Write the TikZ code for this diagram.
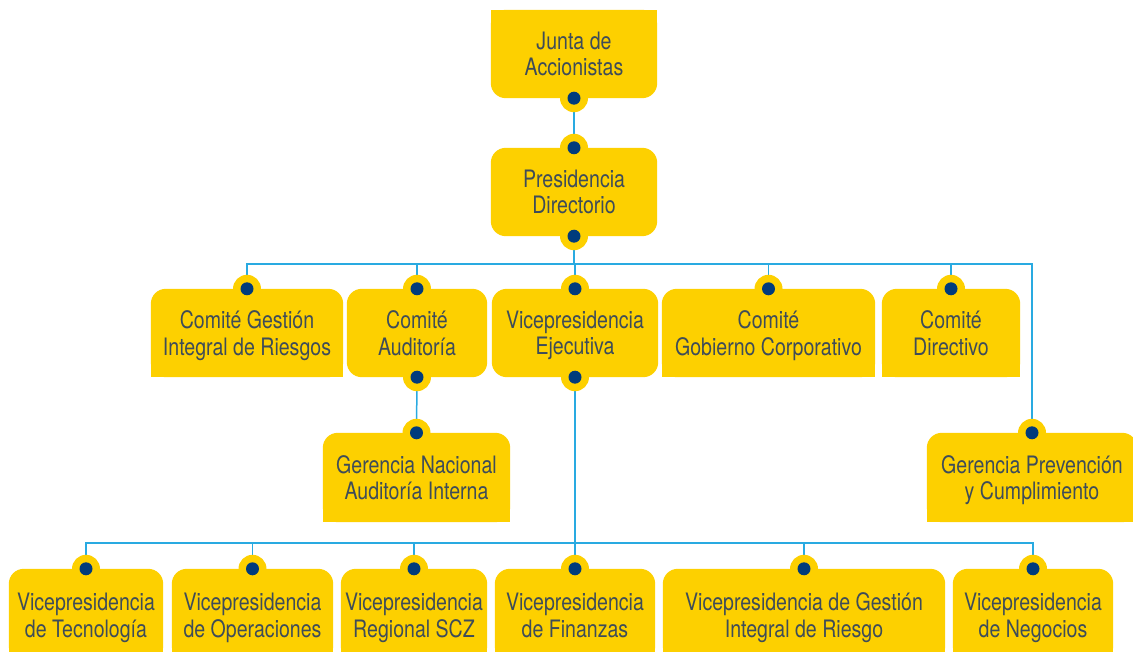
\documentclass[tikz,border=0pt]{standalone}
\usepackage{fontspec}
\setmainfont[FakeStretch=0.815]{TeX Gyre Heros}
\usepackage{tikz}
\usetikzlibrary{positioning}
\definecolor{boxyellow}{HTML}{FDD000}
\definecolor{dotnavy}{HTML}{003B7C}
\definecolor{linkcyan}{HTML}{29AAE1}
\definecolor{textslate}{HTML}{3E4C59}
\pgfdeclarelayer{background}
\pgfsetlayers{background,main}

\begin{document}
\begin{tikzpicture}[x=1pt, y=-1pt,
  every node/.style={align=center},
  box/.style={inner sep=0pt, minimum height=88pt, text depth=0pt,
    text=textslate, font=\fontsize{24}{26.5}\selectfont},
  link/.style={draw=linkcyan, line width=1.5pt}]
\useasboundingbox (0,0) rectangle (1133,652);
\node (junta) [box, minimum width=166pt] at (574,54) {Junta de\\Accionistas};
\node (pres) [box, minimum width=166pt] at (574,192) {Presidencia\\Directorio};
\node (cgir) [box, minimum width=192pt] at (247,333) {Comité Gestión\\Integral de Riesgos};
\node (caud) [box, minimum width=140pt] at (417,333) {Comité\\Auditoría};
\node (vpe) [box, minimum width=166pt] at (575,333) {Vicepresidencia\\Ejecutiva};
\node (cgc) [box, minimum width=213pt] at (768.5,333) {Comité\\Gobierno Corporativo};
\node (cdir) [box, minimum width=138pt] at (951,333) {Comité\\Directivo};
\node (gnai) [box, minimum width=187pt, minimum height=89pt] at (416.5,477.5) {Gerencia Nacional\\Auditoría Interna};
\node (gpc) [box, minimum width=210pt, minimum height=89pt] at (1032,477.5) {Gerencia Prevención\\y Cumplimiento};
\node (vtec) [box, minimum width=154pt, minimum height=92pt] at (86,615) {Vicepresidencia\\de Tecnología};
\node (vope) [box, minimum width=161pt, minimum height=92pt] at (252.5,615) {Vicepresidencia\\de Operaciones};
\node (vscz) [box, minimum width=146pt, minimum height=92pt] at (414,615) {Vicepresidencia\\Regional SCZ};
\node (vfin) [box, minimum width=160pt, minimum height=92pt] at (575,615) {Vicepresidencia\\de Finanzas};
\node (vgir) [box, minimum width=282pt, minimum height=92pt] at (804,615) {Vicepresidencia de Gestión\\Integral de Riesgo};
\node (vneg) [box, minimum width=160pt, minimum height=92pt] at (1033,615) {Vicepresidencia\\de Negocios};
% box fills, some with square corners
\begin{pgfonlayer}{background}
\foreach \n in {junta,pres,cgir,caud,vpe,cgc,cdir,gnai,gpc,vtec,vope,vscz,vfin,vgir,vneg}
  \fill[boxyellow, rounded corners=15pt] (\n.south west) rectangle (\n.north east);
\fill[boxyellow] (junta.west) rectangle (junta.north east);
\foreach \n in {cgir,cgc,cdir,gnai,gpc,vtec,vope,vscz,vfin,vgir,vneg}
  \fill[boxyellow] (\n.west) rectangle (\n.south east);
\end{pgfonlayer}
% connectors
\draw[link] (junta.south) -- (pres.north);
\draw[link] (pres.south) -- ++(0,28);
\draw[link] (cgir.north) -- ++(0,-25) -| (gpc.north);
\foreach \n in {caud,vpe,cgc,cdir}
  \draw[link] (\n.north) -- ++(0,-25);
\draw[link] (caud.south) -- (gnai.north);
\draw[link] (vpe.south) -- (vfin.north);
\draw[link] (vtec.north) -- ++(0,-26) -| (vneg.north);
\foreach \n in {vope,vscz,vgir}
  \draw[link] (\n.north) -- ++(0,-26);
% tabs and dots
\foreach \p in {junta.south,pres.north,pres.south,cgir.north,caud.north,caud.south,
    vpe.north,vpe.south,cgc.north,cdir.north,gnai.north,gpc.north,
    vtec.north,vope.north,vscz.north,vfin.north,vgir.north,vneg.north} {
  \fill[boxyellow] (\p) circle[radius=14pt];
  \fill[dotnavy] (\p) circle[radius=6.5pt];
}
\end{tikzpicture}
\end{document}
